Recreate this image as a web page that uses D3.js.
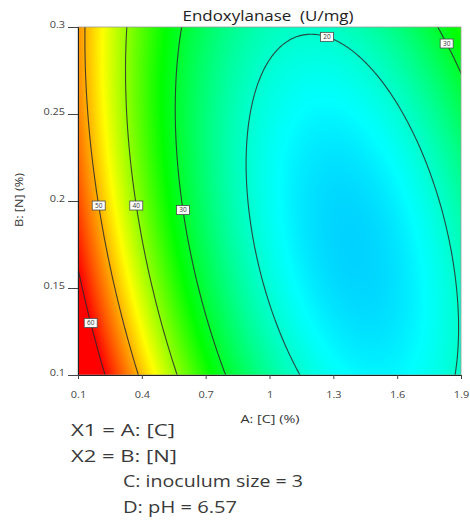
<!DOCTYPE html>
<html>
<head>
<meta charset="utf-8">
<script src="https://cdn.jsdelivr.net/npm/d3@7"></script>
<style>
  html, body { margin: 0; padding: 0; background: #fff; }
  svg { display: block; font-family: "Open Sans", "Noto Sans", sans-serif; }
</style>
</head>
<body>
<svg id="chart" width="470" height="530"></svg>
<script>
// Endoxylanase activity (U/mg): quadratic response model in coded factors
// (A and B coded to -1..+1 over their ranges; C and D held constant).
const responseTitle = "Endoxylanase  (U/mg)";
const modelTerms = ["Intercept", "A", "B", "AB", "A²", "B²"];
const modelCoefficients = [17.85, -16.64, -0.985, 7.61, 21.5, 4.475];
const rangeA = [0.1, 1.9];   // A: [C] (%)
const rangeB = [0.1, 0.3];   // B: [N] (%)
const contourLevels = [20, 30, 40, 50, 60];
const ticksA = [0.1, 0.4, 0.7, 1, 1.3, 1.6, 1.9];
const ticksB = [0.1, 0.15, 0.2, 0.25, 0.3];
const axisTitleA = "A: [C] (%)";
const axisTitleB = "B: [N] (%)";
const factorNotes = ["X1 = A: [C]", "X2 = B: [N]", "C: inoculum size = 3", "D: pH = 6.57"];

// ---- model helpers ----
const coef = Object.fromEntries(modelTerms.map((t, i) => [t, modelCoefficients[i]]));
const codeA = A => (A - (rangeA[0] + rangeA[1]) / 2) / ((rangeA[1] - rangeA[0]) / 2);
const codeB = B => (B - (rangeB[0] + rangeB[1]) / 2) / ((rangeB[1] - rangeB[0]) / 2);
const uncodeA = a => (rangeA[0] + rangeA[1]) / 2 + a * (rangeA[1] - rangeA[0]) / 2;
const uncodeB = b => (rangeB[0] + rangeB[1]) / 2 + b * (rangeB[1] - rangeB[0]) / 2;
function response(A, B) {
  const a = codeA(A), b = codeB(B);
  return coef["Intercept"] + coef["A"] * a + coef["B"] * b + coef["AB"] * a * b
       + coef["A²"] * a * a + coef["B²"] * b * b;
}
// root of c2 x² + c1 x + c0 = 0 closest to `near`
function nearestRoot(c2, c1, c0, near) {
  const disc = Math.sqrt(Math.max(0, c1 * c1 - 4 * c2 * c0));
  const r = [(-c1 - disc) / (2 * c2), (-c1 + disc) / (2 * c2)];
  return Math.abs(r[0] - near) < Math.abs(r[1] - near) ? r[0] : r[1];
}
// point on a contour level, at a fixed B (solve for A) or a fixed A (solve for B)
function contourPoint(spot) {
  if (spot.B !== undefined) {
    const b = codeB(spot.B);
    const a = nearestRoot(coef["A²"], coef["A"] + coef["AB"] * b,
      coef["Intercept"] + coef["B"] * b + coef["B²"] * b * b - spot.level, codeA(spot.near));
    return [uncodeA(a), spot.B];
  }
  const a = codeA(spot.A);
  const b = nearestRoot(coef["B²"], coef["B"] + coef["AB"] * a,
    coef["Intercept"] + coef["A"] * a + coef["A²"] * a * a - spot.level, codeB(spot.near));
  return [spot.A, uncodeB(b)];
}

// widen a text element to a given length (or by a factor of its natural width)
function widen(sel, len) {
  sel.each(function (d, i) {
    const natural = this.getComputedTextLength();
    const target = typeof len === "function" ? len(d, i, natural) : len;
    d3.select(this).attr("textLength", target).attr("lengthAdjust", "spacingAndGlyphs");
  });
}

// ---- layout ----
const svg = d3.select("#chart");
const plot = { left: 78, right: 461, top: 27, bottom: 375 };
const x = d3.scaleLinear().domain(rangeA).range([plot.left, plot.right]);
const y = d3.scaleLinear().domain(rangeB).range([plot.bottom, plot.top]);

// blue → cyan → green → yellow → red gradient over the response
const color = d3.scaleLinear()
  .domain([2, 17, 32.5, 45.5, 60])
  .range(["#0000ff", "#00ffff", "#00ff00", "#ffff00", "#ff0000"])
  .interpolate(d3.interpolateRgb)
  .clamp(true);

// ---- shaded surface, one value per pixel ----
const w = plot.right - plot.left, h = plot.bottom - plot.top;
const canvas = document.createElement("canvas");
canvas.width = w; canvas.height = h;
const ctx = canvas.getContext("2d");
const img = ctx.createImageData(w, h);
for (let py = 0; py < h; py++) {
  const B = y.invert(plot.top + py + 0.5);
  for (let px = 0; px < w; px++) {
    const A = x.invert(plot.left + px + 0.5);
    const c = d3.rgb(color(response(A, B)));
    const k = (py * w + px) * 4;
    img.data[k] = c.r; img.data[k + 1] = c.g; img.data[k + 2] = c.b; img.data[k + 3] = 255;
  }
}
ctx.putImageData(img, 0, 0);

const defs = svg.append("defs");
defs.append("clipPath").attr("id", "plot-clip")
  .append("rect").attr("x", plot.left).attr("y", plot.top).attr("width", w).attr("height", h);

svg.append("image")
  .attr("x", plot.left).attr("y", plot.top).attr("width", w).attr("height", h)
  .attr("preserveAspectRatio", "none")
  .attr("href", canvas.toDataURL());

// ---- contour lines ----
const nx = 185, ny = 105, pad = 2;
const stepA = (rangeA[1] - rangeA[0]) / (nx - 1 - 2 * pad);
const stepB = (rangeB[1] - rangeB[0]) / (ny - 1 - 2 * pad);
const gridA = i => rangeA[0] + (i - pad) * stepA;
const gridB = j => rangeB[0] + (j - pad) * stepB;
const values = new Array(nx * ny);
for (let j = 0; j < ny; j++)
  for (let i = 0; i < nx; i++) values[j * nx + i] = response(gridA(i), gridB(j));

const contours = d3.contours().size([nx, ny]).thresholds(contourLevels)(values);
const toPlot = d3.geoTransform({
  point(gx, gy) { this.stream.point(x(gridA(gx - 0.5)), y(gridB(gy - 0.5))); }
});
svg.append("g").attr("clip-path", "url(#plot-clip)")
  .selectAll("path").data(contours).join("path")
  .attr("d", d3.geoPath(toPlot))
  .attr("fill", "none")
  .attr("stroke", "#2a2a2a")
  .attr("stroke-opacity", 0.85)
  .attr("stroke-width", 1.1);

// frame
svg.append("rect")
  .attr("x", plot.left).attr("y", plot.top).attr("width", w).attr("height", h)
  .attr("fill", "none").attr("stroke", "#9a9a9a").attr("stroke-width", 0.8);

// ---- contour labels ----
const labelSpots = [
  { level: 20, A: 1.27, near: 0.29 },
  { level: 30, B: 0.2905, near: 1.8 },
  { level: 30, B: 0.1948, near: 0.6 },
  { level: 40, B: 0.1974, near: 0.37 },
  { level: 50, B: 0.1974, near: 0.2 },
  { level: 60, B: 0.1299, near: 0.16 }
];
const labels = svg.append("g").selectAll("g").data(labelSpots).join("g")
  .attr("transform", d => { const p = contourPoint(d); return `translate(${x(p[0])},${y(p[1])})`; });
labels.append("rect")
  .attr("x", -6.5).attr("y", -4.5).attr("width", 13).attr("height", 9)
  .attr("fill", "#fff").attr("stroke", "#4a4a4a").attr("stroke-width", 0.8);
labels.append("text")
  .attr("text-anchor", "middle").attr("dy", "0.35em")
  .attr("font-size", 6.5).attr("fill", "#333")
  .text(d => d.level);

// ---- axes ----
const axisB = svg.append("g")
  .attr("transform", `translate(${plot.left},0)`)
  .call(d3.axisLeft(y).tickValues(ticksB).tickFormat(d3.format("")).tickSize(10).tickPadding(3));
const axisA = svg.append("g")
  .attr("transform", `translate(0,${plot.bottom})`)
  .call(d3.axisBottom(x).tickValues(ticksA).tickFormat(d3.format("")).tickSize(4).tickPadding(12));
[axisA, axisB].forEach(g => {
  g.select(".domain").attr("stroke", "#222").attr("stroke-width", 1);
  g.selectAll(".tick line").attr("stroke", "#444");
  g.selectAll(".tick text").attr("fill", "#444").attr("font-size", 9.5)
    .attr("font-family", "'Open Sans', sans-serif")
    .call(widen, (d, i, n) => n * 1.15);
});
axisB.selectAll(".tick text").attr("dy", "0.05em");

svg.append("text")
  .attr("x", (plot.left + plot.right) / 2 + 0.5).attr("y", 423)
  .attr("text-anchor", "middle").attr("font-size", 11.5).attr("fill", "#333")
  .text(axisTitleA)
  .call(widen, 59);
svg.append("text")
  .attr("transform", "translate(22.5,200) rotate(-90)")
  .attr("text-anchor", "middle").attr("font-size", 11.5).attr("fill", "#333")
  .text(axisTitleB)
  .call(widen, 54);

// title
svg.append("text")
  .attr("x", 268).attr("y", 20.5)
  .attr("text-anchor", "middle").attr("font-size", 15).attr("fill", "#222")
  .style("white-space", "pre")
  .text(responseTitle)
  .call(widen, 171);

// factor settings underneath
const noteWidths = [104, 106, 180, 114];
svg.append("g").selectAll("text").data(factorNotes).join("text")
  .attr("x", (d, i) => i < 2 ? 71 : 123)
  .attr("y", (d, i) => 436 + i * 25.6)
  .attr("font-size", 17).attr("fill", "#3a3a3a")
  .text(d => d)
  .call(widen, (d, i) => noteWidths[i]);
</script>
</body>
</html>
